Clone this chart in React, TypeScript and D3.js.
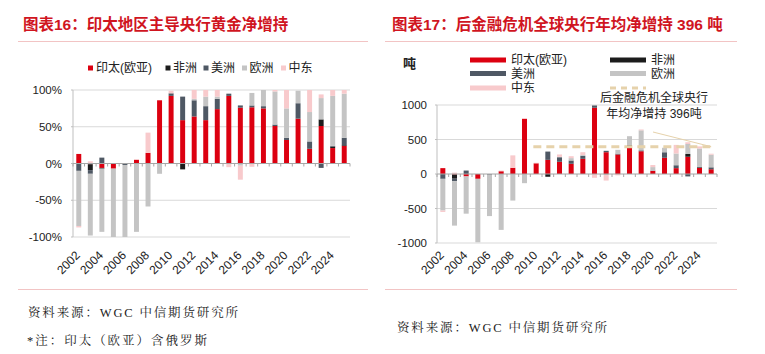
import React from 'react';
import * as d3 from 'd3';

// ---------- categories ----------
const YEARS = ['2002','2003','2004','2005','2006','2007','2008','2009','2010','2011','2012','2013',
  '2014','2015','2016','2017','2018','2019','2020','2021','2022','2023','2024','2025'];
const LABEL_YEARS = ['2002','2004','2006','2008','2010','2012','2014','2016','2018','2020','2022','2024'];
const SERIES_KEYS = ['ap', 'af', 'am', 'eu', 'me'];
const SERIES_NAMES = ['印太(欧亚)', '非洲', '美洲', '欧洲', '中东'];

// ---------- Chart 16: share of net central bank buying (%) ----------
const AP_PCT = [13, -1, -6, -7, 0, 5, 14.5, 86, 92, 59, 64, 59, 74, 92, 76, 76.5, 75, 51, 32, 61, 20, 51, 21, 24];
const AF_PCT = [0, -8, -1, 0, 0, 0, 0, 0, 0, -8, 0, 0, 0, 0, 0, 0, 0, 0, 0, 0, 0, 9, 2, 1];
const AM_PCT = [-10, -5, 8, 0, -2, 0, 0, 0, 3.5, 32, 22, 19, 14, 3, 3, 2.5, 3, 2, 3, 21, 10, -6, 1, 10];
const EU_PCT = [-75, -84, -86, -93, -98, -93, -58.5, -14, 0, 0, 2, 13, 3, 0, -3, 17, 22, 45, 40, 17, 40, 29, 68, 60];
const ME_PCT = [-2, 3, 0, 0, 0, 1, 27.5, 0, 3.5, 0, 12, 9, 9, -5, -19, -4.5, 0, 2, 25, 0, 30, 5, 8, 5];
const PCT_TICKS = [-100, -50, 0, 50, 100];

// ---------- Chart 17: net central bank buying (tonnes) ----------
const AP_T = [85, -8, -35, -70, 0, 40, 90, 800, 155, 205, 177, 148, 220, 960, 316, 283, 405, 330, 45, 235, 85, 250, 88, 68];
const AF_T = [0, -60, 0, 0, 0, 0, 0, 0, 0, -40, 0, 0, 0, 0, 0, 0, 0, 0, 0, 0, 0, 40, 8, 3];
const AM_T = [-70, -35, 50, 0, -10, 0, 0, 0, 0, 120, 66, 48, 43, 33, 20, 12, 20, 13, 5, 80, 42, -35, 6, 26];
const EU_T = [-460, -645, -540, -920, -600, -810, -385, -133, 0, 0, 5, 34, 12, 0, -15, 55, 123, 290, 50, 65, 170, 145, 268, 183];
const ME_T = [-20, 20, 0, 0, 0, 10, 180, 0, 8, 0, 35, 28, 41, -55, -80, -20, 0, 12, 30, 0, 125, 25, 30, 14];
const TON_TICKS = [-1000, -500, 0, 500, 1000];
const AVG_NET_BUY = 396;
const AVG_START_YEAR = '2010';

// ---------- styles ----------
const COLORS: Record<string, string> = {
  ap: '#dc0010', af: '#1c1c1c', am: '#4f5864', eu: '#c4c4c4', me: '#f8cacc',
};
const SANS = "'Liberation Sans', Arial, 'Noto Sans CJK SC', sans-serif";
const SERIF = "'Liberation Serif', 'Noto Serif CJK SC', 'Noto Sans CJK SC', serif";
const TITLE_RED = '#d0151f';
const RULE = '#f2c4c4';
const DASH = '#e6d2ab';

function buildStack(ap: number[], af: number[], am: number[], eu: number[], me: number[]) {
  const rows = YEARS.map((year, i) => ({ year, ap: ap[i], af: af[i], am: am[i], eu: eu[i], me: me[i] }));
  return d3.stack<any>().keys(SERIES_KEYS).offset(d3.stackOffsetDiverging)(rows);
}

type ChartProps = {
  data: number[][];
  x0: number; x1: number; yTop: number; yBot: number;
  domain: [number, number]; ticks: number[]; fmt: (v: number) => string;
  tickLabelX: number; labelDx: number; labelY: number;
  children?: (x: d3.ScaleBand<string>, y: d3.ScaleLinear<number, number>) => React.ReactNode;
};

function StackedChart({ data, x0, x1, yTop, yBot, domain, ticks, fmt, tickLabelX, labelDx, labelY, children }: ChartProps) {
  const x = d3.scaleBand<string>().domain(YEARS).range([x0, x1]).paddingInner(0.57).paddingOuter(0.285);
  const xb = d3.scaleBand<string>().domain(YEARS).range([x0, x1]);
  const y = d3.scaleLinear().domain(domain).range([yBot, yTop]);
  const stack = buildStack(data[0], data[1], data[2], data[3], data[4]);
  const y0 = y(0);
  return (
    <g>
      {ticks.filter(t => t !== 0).map(t => (
        <line key={'g' + t} x1={x0} x2={x1} y1={y(t)} y2={y(t)} stroke="#d9d9d9" strokeWidth={1} />
      ))}
      {ticks.map(t => (
        <line key={'yt' + t} x1={x0 - 2} x2={x0} y1={y(t)} y2={y(t)} stroke="#bfbfbf" />
      ))}
      <line x1={x0} x2={x0} y1={yTop} y2={yBot} stroke="#bfbfbf" />
      {ticks.map(t => (
        <text key={'yl' + t} x={tickLabelX} y={y(t)} textAnchor="end" dominantBaseline="central"
          fontFamily={SANS} fontSize={11.5} fill="#222">{fmt(t)}</text>
      ))}
      {stack.map(series => (
        <g key={series.key} fill={COLORS[series.key]}>
          {series.map((d, i) => {
            const a = y(d[0]); const b = y(d[1]);
            const h = Math.abs(a - b);
            if (h < 0.01) return null;
            return <rect key={i} x={x(YEARS[i])} width={x.bandwidth()} y={Math.min(a, b)} height={h} />;
          })}
        </g>
      ))}
      <line x1={x0} x2={x1} y1={y0} y2={y0} stroke="#a6a6a6" strokeWidth={1} />
      {YEARS.map((yr, i) => (
        <line key={'xt' + yr} x1={(xb(yr) as number)} x2={(xb(yr) as number)} y1={y0} y2={y0 + 3} stroke="#a6a6a6" />
      ))}
      <line x1={x1} x2={x1} y1={y0} y2={y0 + 3} stroke="#a6a6a6" />
      {LABEL_YEARS.map(yr => {
        const cx = (xb(yr) as number) + xb.bandwidth() / 2 + labelDx;
        return (
          <text key={'xl' + yr} transform={`translate(${cx},${labelY}) rotate(-45)`} textAnchor="end"
            fontFamily={SANS} fontSize={12} fill="#222">{yr}</text>
        );
      })}
      {children ? children(xb, y) : null}
    </g>
  );
}

export default function App() {
  const pctFmt = (v: number) => `${v}%`;
  const tonFmt = (v: number) => `${v}`;
  const leftLegend = [
    { k: 'ap', sx: 88, tx: 96 },
    { k: 'af', sx: 165.5, tx: 173 },
    { k: 'am', sx: 203.5, tx: 211 },
    { k: 'eu', sx: 242, tx: 249.5 },
    { k: 'me', sx: 281, tx: 288.5 },
  ];
  const rightLegend = [
    { k: 'ap', lx: 470, row: 60 },
    { k: 'af', lx: 610, row: 60 },
    { k: 'am', lx: 470, row: 73.5 },
    { k: 'eu', lx: 610, row: 73.5 },
    { k: 'me', lx: 470, row: 88 },
  ];
  return (
    <svg width={765} height={354} style={{ position: 'absolute', left: 0, top: 0, background: '#fff' }}>
      <rect width={765} height={354} fill="#fff" />
      {/* ---------------- left chart ---------------- */}
      <text x={23} y={30} fontFamily={SANS} fontWeight="bold" fontSize={15.5} fill={TITLE_RED}>图表16：印太地区主导央行黄金净增持</text>
      <line x1={18} x2={368} y1={41.5} y2={41.5} stroke={RULE} strokeWidth={1} />
      {leftLegend.map((l, i) => (
        <g key={'ll' + l.k}>
          <rect x={l.sx} y={65.5} width={5} height={5} fill={COLORS[l.k]} />
          <text x={l.tx} y={68} dominantBaseline="central" fontFamily={SANS} fontSize={12} fill="#222">
            {SERIES_NAMES[SERIES_KEYS.indexOf(l.k)]}
          </text>
        </g>
      ))}
      <StackedChart data={[AP_PCT, AF_PCT, AM_PCT, EU_PCT, ME_PCT]} x0={73} x1={350} yTop={90} yBot={237}
        domain={[-100, 100]} ticks={PCT_TICKS} fmt={pctFmt} tickLabelX={62} labelDx={2} labelY={256} />
      <line x1={18} x2={368} y1={289.5} y2={289.5} stroke={RULE} strokeWidth={1.2} />
      <text x={28} y={317} fontFamily={SERIF} fontSize={12.5} fill="#222" textLength={210} lengthAdjust="spacing">资料来源：WGC 中信期货研究所</text>
      <text x={27} y={345} fontFamily={SERIF} fontSize={12.5} fill="#222" textLength={180} lengthAdjust="spacing">*注：印太（欧亚）含俄罗斯</text>

      {/* ---------------- right chart ---------------- */}
      <text x={392} y={30} fontFamily={SANS} fontWeight="bold" fontSize={15.5} fill={TITLE_RED}>图表17：后金融危机全球央行年均净增持 396 吨</text>
      <line x1={385} x2={737} y1={41.5} y2={41.5} stroke={RULE} strokeWidth={1} />
      <text x={403} y={63} dominantBaseline="central" fontFamily={SANS} fontWeight="bold" fontSize={13} fill="#222">吨</text>
      {rightLegend.map(l => (
        <g key={'rl' + l.k}>
          <line x1={l.lx} x2={l.lx + 36} y1={l.row} y2={l.row} stroke={COLORS[l.k]} strokeWidth={5} />
          <text x={l.lx + 41} y={l.row} dominantBaseline="central" fontFamily={SANS} fontSize={12} fill="#222">
            {SERIES_NAMES[SERIES_KEYS.indexOf(l.k)]}
          </text>
        </g>
      ))}
      <line x1={610} x2={646} y1={88} y2={88} stroke={DASH} strokeWidth={3} strokeDasharray="6,5" />
      <StackedChart data={[AP_T, AF_T, AM_T, EU_T, ME_T]} x0={437} x1={717} yTop={105} yBot={243}
        domain={[-1000, 1000]} ticks={TON_TICKS} fmt={tonFmt} tickLabelX={427} labelDx={2} labelY={256}>
        {(xb, y) => {
          const ya = y(AVG_NET_BUY);
          const xs = (xb(AVG_START_YEAR) as number) + 3;
          const xe = (xb(YEARS[YEARS.length - 1]) as number) + xb.bandwidth() / 2 + 2;
          return (
            <g>
              <line x1={xs} x2={xe} y1={ya} y2={ya} stroke={DASH} strokeWidth={3} strokeDasharray="8,5" />
              <line x1={653} y1={132} x2={xe - 2} y2={ya} stroke={DASH} strokeWidth={1} />
              <text x={654} y={102} textAnchor="middle" fontFamily={SANS} fontSize={12} fill="#222">后金融危机全球央行</text>
              <text x={654} y={118} textAnchor="middle" fontFamily={SANS} fontSize={12} fill="#222">年均净增持 {AVG_NET_BUY}吨</text>
            </g>
          );
        }}
      </StackedChart>
      <line x1={385} x2={737} y1={289.5} y2={289.5} stroke={RULE} strokeWidth={1.2} />
      <text x={397} y={332} fontFamily={SERIF} fontSize={12.5} fill="#222" textLength={210} lengthAdjust="spacing">资料来源：WGC 中信期货研究所</text>
    </svg>
  );
}
